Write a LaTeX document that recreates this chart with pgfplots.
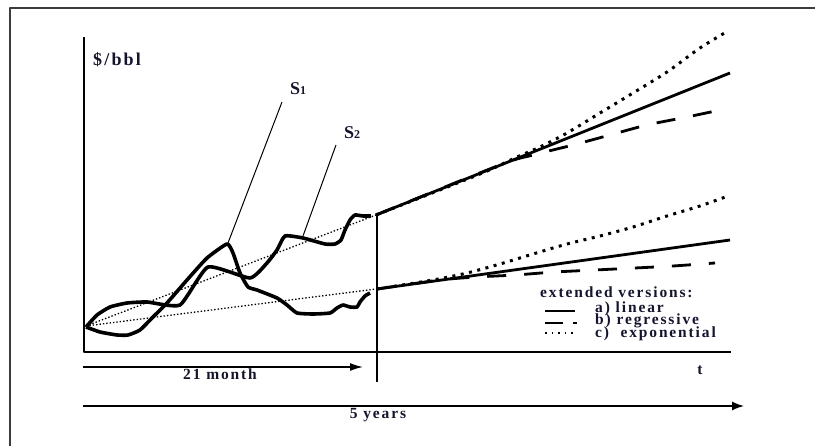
\documentclass[border=0pt]{standalone}
\usepackage{pgfplots}
\pgfplotsset{compat=1.18}
\usepackage{fontspec}
\setmainfont{Liberation Serif}
\newfontfamily\wide[LetterSpace=12]{Liberation Serif}
\usetikzlibrary{arrows.meta}
\definecolor{ink}{RGB}{20,20,45}
\definecolor{frame}{RGB}{60,60,60}
\tikzset{lbl/.style={font=\bfseries\fontsize{15.5}{15.5}\selectfont, text=ink, inner sep=0pt}}

\begin{document}
\begin{tikzpicture}
\begin{axis}[
    scale only axis,
    width=815pt, height=446pt,
    xmin=0, xmax=815, ymin=0, ymax=446,
    y dir=reverse,
    hide axis,
    clip=false,
    every axis plot/.append style={black, no markers, line join=round},
]
\path (rel axis cs:0,0) coordinate (bl) (rel axis cs:1,1) coordinate (tr);

% outer frame
\addplot[frame, line width=1.3pt] coordinates {(10,446) (10,8) (815,8)};

% axes and divider
\addplot[line width=2pt] coordinates {(84,37) (84,352) (731,352)};
\addplot[line width=1.8pt] coordinates {(377,216) (377,382)};

% time arrows
\addplot[line width=1.5pt, -{Latex[length=13pt,width=8pt]}] coordinates {(83,367) (363,367)};
\addplot[line width=1.5pt, -{Latex[length=12pt,width=9pt]}] coordinates {(83,406) (744,406)};

% thin trend lines
\addplot[line width=1.3pt, dash pattern=on 1.4pt off 2pt] coordinates {(86,326) (376,215)};
\addplot[line width=1.3pt, dash pattern=on 1.4pt off 2pt] coordinates {(86,326) (376,289)};

% price curve rising early
\addplot[line width=3.6pt, smooth, tension=0.3] coordinates {
  (86,327) (97,315) (110,307) (127,303) (147,302) (180,305)
  (208,267) (250,278) (267,263) (277,250) (285,236) (303,238)
  (325,244) (335,244) (341,240) (345,230) (350,220) (355,215)
  (363,216) (371,216)};

% price curve dipping early
\addplot[line width=3.6pt, smooth, tension=0.3] coordinates {
  (86,327) (100,332) (117,335) (128,335) (140,330) (153,317)
  (167,303) (187,280) (207,258) (227,244) (233,253) (240,273)
  (248,287) (257,290) (277,298) (287,305) (297,313) (313,314)
  (330,313) (337,308) (343,305) (350,307) (357,307) (360,302)
  (365,296) (370,293)};

% leader lines
\addplot[line width=1pt] coordinates {(282,102) (228,243)};
\addplot[line width=1pt] coordinates {(336,145) (303,236)};

% upper extensions
\addplot[line width=2.8pt] coordinates {(376,215) (730,73)};
\addplot[line width=2.8pt, dash pattern=on 19pt off 18pt, smooth] coordinates {
  (376,215) (500,165) (533,155) (573,145) (610,135) (647,125) (687,117) (725,109)};
\addplot[line width=3pt, dash pattern=on 3pt off 5.5pt, smooth] coordinates {
  (376,215) (480,174) (517,157) (540,147) (567,133) (600,113) (633,93) (667,72) (700,48) (728,31)};

% lower extensions
\addplot[line width=2.8pt] coordinates {(377,289) (730,240)};
\addplot[line width=2.8pt, dash pattern=on 19pt off 18pt, smooth] coordinates {
  (377,289) (440,280) (477,277) (515,275) (555,272) (595,270) (635,268) (673,266) (715,263)};
\addplot[line width=3pt, dash pattern=on 3pt off 5.5pt, smooth] coordinates {
  (377,289) (433,280) (467,273) (500,264) (533,254) (567,244) (600,236) (633,227) (667,216) (700,206) (728,196)};

% legend samples
\addplot[line width=2pt] coordinates {(545,311) (575,311)};
\addplot[line width=2pt] coordinates {(545,323) (563,323)};
\addplot[line width=2pt] coordinates {(573,323) (577,323)};
\addplot[line width=1.6pt, dash pattern=on 1.6pt off 5pt] coordinates {(545,333) (577,333)};

% labels
\node[lbl, font=\bfseries\fontsize{18}{18}\selectfont, anchor=base west] at (axis cs:93,66) {\wide\$/bbl};
\node[lbl, font=\bfseries\fontsize{18}{18}\selectfont, anchor=base west] at (axis cs:290,95) {S{\fontsize{12}{12}\selectfont 1}};
\node[lbl, font=\bfseries\fontsize{18}{18}\selectfont, anchor=base west] at (axis cs:344,139) {S{\fontsize{12}{12}\selectfont 2}};
\node[lbl, anchor=base] at (axis cs:220,380) {\wide 21 month};
\node[lbl, anchor=base] at (axis cs:378,419) {\wide 5 years};
\node[lbl, anchor=base] at (axis cs:700,375) {t};
\node[lbl, anchor=base west] at (axis cs:540,298) {\wide extended versions:};
\node[lbl, anchor=base west] at (axis cs:595,313) {\wide a) linear};
\node[lbl, anchor=base west] at (axis cs:595,325) {\wide b) regressive};
\node[lbl, anchor=base west] at (axis cs:595,338) {\wide c)~~exponential};
\end{axis}
\pgfresetboundingbox
\path (bl) rectangle (tr);
\end{tikzpicture}
\end{document}
